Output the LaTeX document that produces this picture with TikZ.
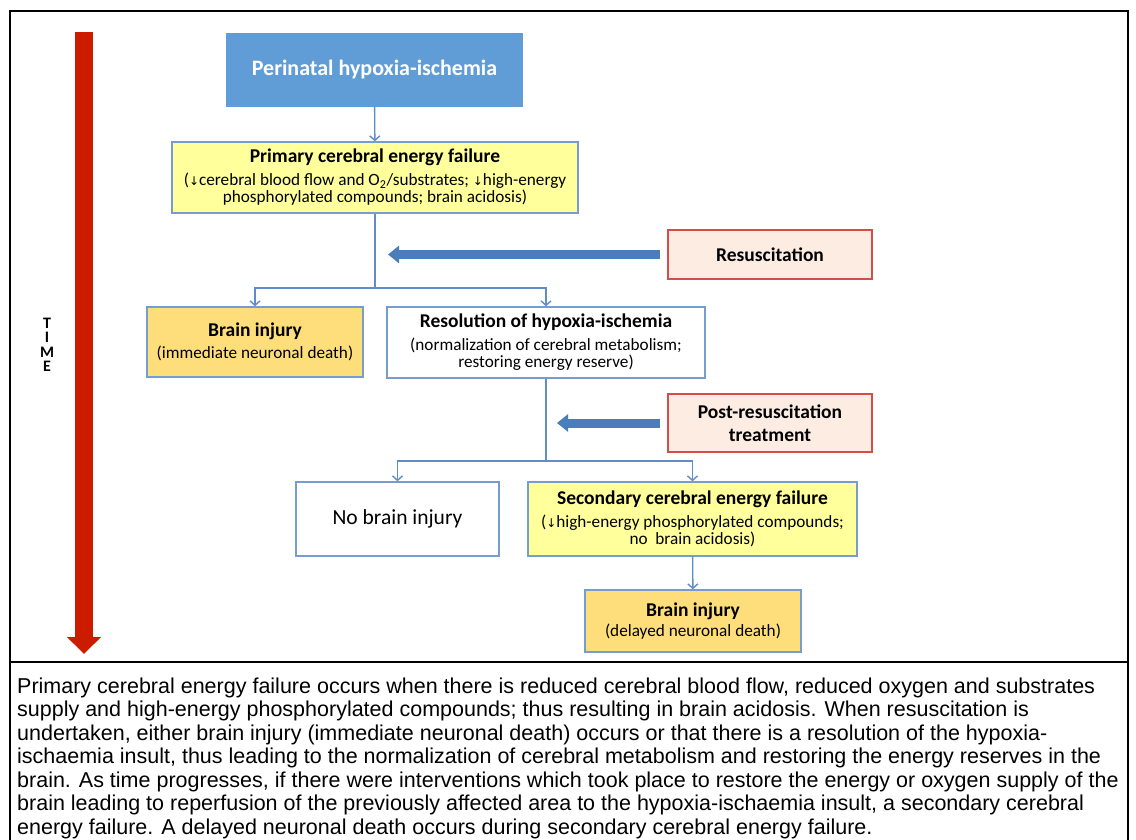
\documentclass[tikz,border=0pt]{standalone}
\usepackage{fontspec}
\setmainfont{Carlito}
\newfontfamily\capfont{Liberation Sans}
\newfontfamily\symfont{DejaVu Sans}
\usetikzlibrary{arrows.meta}

\definecolor{edgeblue}{RGB}{118,156,208}
\definecolor{linkblue}{RGB}{96,140,200}
\definecolor{thickblue}{RGB}{74,126,187}
\definecolor{topblue}{RGB}{96,157,214}
\definecolor{paleyellow}{RGB}{255,255,156}
\definecolor{injuryfill}{RGB}{253,222,122}
\definecolor{treatfill}{RGB}{253,236,226}
\definecolor{treatedge}{RGB}{214,76,72}
\definecolor{timered}{RGB}{204,28,0}

\newcommand{\dn}{{\symfont\fontsize{12}{12}\selectfont ↓}}
\newcommand{\hd}[1]{{\fontsize{19.5}{23}\selectfont\bfseries #1}}

\begin{document}
\begin{tikzpicture}[x=1pt,y=-1pt,
    box/.style={draw=edgeblue,line width=1.4pt,rectangle,align=center,inner sep=1pt,
      font=\fontsize{17.2}{17.5}\selectfont},
    link/.style={draw=linkblue,line width=1.4pt,-{Straight Barb[length=4.5pt,width=10pt]}},
    plain/.style={draw=linkblue,line width=1.4pt},
    fatarrow/.style={draw=thickblue,line width=9pt,-{Triangle[length=11pt,width=17pt]}},
    treat/.style={draw=treatedge,fill=treatfill,line width=1.4pt,rectangle,align=center,
      minimum width=204pt,font=\fontsize{19.5}{23}\selectfont\bfseries}]
  \useasboundingbox (0,0) rectangle (1136,839);
  \fill[white] (0,0) rectangle (1136,839);

  % Frame and caption divider
  \draw[line width=2pt] (10,845) -- (10,11) -- (1128,11) -- (1128,845);
  \draw[line width=2pt] (10,662) -- (1128,662);

  % Time axis
  \coordinate (timetop) at (84,32);
  \coordinate (timebot) at (84,654);
  \draw[timered,line width=18pt,-{Triangle[length=17pt,width=33pt]}] (timetop) -- (timebot);
  \node[font=\fontsize{16}{14.5}\selectfont\bfseries,align=center] (time) at (47,345) {T\\I\\M\\E};

  % Boxes
  \node[box,draw=topblue,fill=topblue,text=white,minimum width=295pt,minimum height=73pt,
    font=\fontsize{22}{26}\selectfont\bfseries] (perinatal) at (374.5,70) {Perinatal hypoxia-ischemia};
  \node[box,fill=paleyellow,minimum width=406pt,minimum height=71pt]
    (primary) at (375,177.5) {\hd{Primary cerebral energy failure}\\[5pt]
    (\dn cerebral blood flow and O\textsubscript{2}/substrates; \dn high-energy\\
    phosphorylated compounds; brain acidosis)};
  \node[treat,minimum height=49pt] (resus) at (770,254.5) {Resuscitation};
  \node[box,fill=injuryfill,minimum width=216pt,minimum height=70pt]
    (injuryA) at (255,342) {\hd{Brain injury}\\[5pt](immediate neuronal death)};
  \node[box,fill=white,minimum width=318pt,minimum height=71pt]
    (resol) at (546,342.5) {\hd{Resolution of hypoxia-ischemia}\\[5pt]
    (normalization of cerebral metabolism;\\restoring energy reserve)};
  \node[treat,minimum height=58pt] (post) at (770,423) {Post-resuscitation\\treatment};
  \node[box,fill=white,minimum width=203pt,minimum height=74pt,font=\fontsize{21.5}{25}\selectfont]
    (noinj) at (397.5,519) {No brain injury};
  \node[box,fill=paleyellow,minimum width=329pt,minimum height=74pt]
    (second) at (692.5,519) {\hd{Secondary cerebral energy failure}\\[5pt]
    (\dn high-energy phosphorylated compounds;\\no\ \ brain acidosis)};
  \node[box,fill=injuryfill,minimum width=216pt,minimum height=62pt]
    (injuryB) at (693,621) {\hd{Brain injury}\\[3pt](delayed neuronal death)};

  % Connectors
  \coordinate (split1) at (375,288);
  \coordinate (split2) at (546,461);
  \draw[link] (perinatal) -- (primary);
  \draw[plain] (primary) -- (split1);
  \draw[link] (split1) -| (injuryA);
  \draw[link] (split1) -| (resol);
  \draw[plain] (resol) -- (split2);
  \draw[link] (split2) -| (noinj);
  \draw[link] (split2) -| (second);
  \draw[link] (second) -- (injuryB);

  % Treatment arrows
  \coordinate (resustip) at (388,254.5);
  \coordinate (posttip) at (557,423);
  \draw[fatarrow] ([xshift=-7pt]resus.west) -- (resustip);
  \draw[fatarrow] ([xshift=-7pt]post.west) -- (posttip);

  % Caption
  \node[anchor=north west,align=left,inner sep=0pt,font=\capfont\fontsize{21.5}{23.5}\selectfont] (caption) at (17,677.5)
    {Primary cerebral energy failure occurs when there is reduced cerebral blood flow, reduced oxygen and substrates\\
     supply and high-energy phosphorylated compounds; thus resulting in brain acidosis. When resuscitation is\\
     undertaken, either brain injury (immediate neuronal death) occurs or that there is a resolution of the hypoxia-\\
     ischaemia insult, thus leading to the normalization of cerebral metabolism and restoring the energy reserves in the\\
     brain. As time progresses, if there were interventions which took place to restore the energy or oxygen supply of the\\
     brain leading to reperfusion of the previously affected area to the hypoxia-ischaemia insult, a secondary cerebral\\
     energy failure. A delayed neuronal death occurs during secondary cerebral energy failure.};
\end{tikzpicture}
\end{document}
